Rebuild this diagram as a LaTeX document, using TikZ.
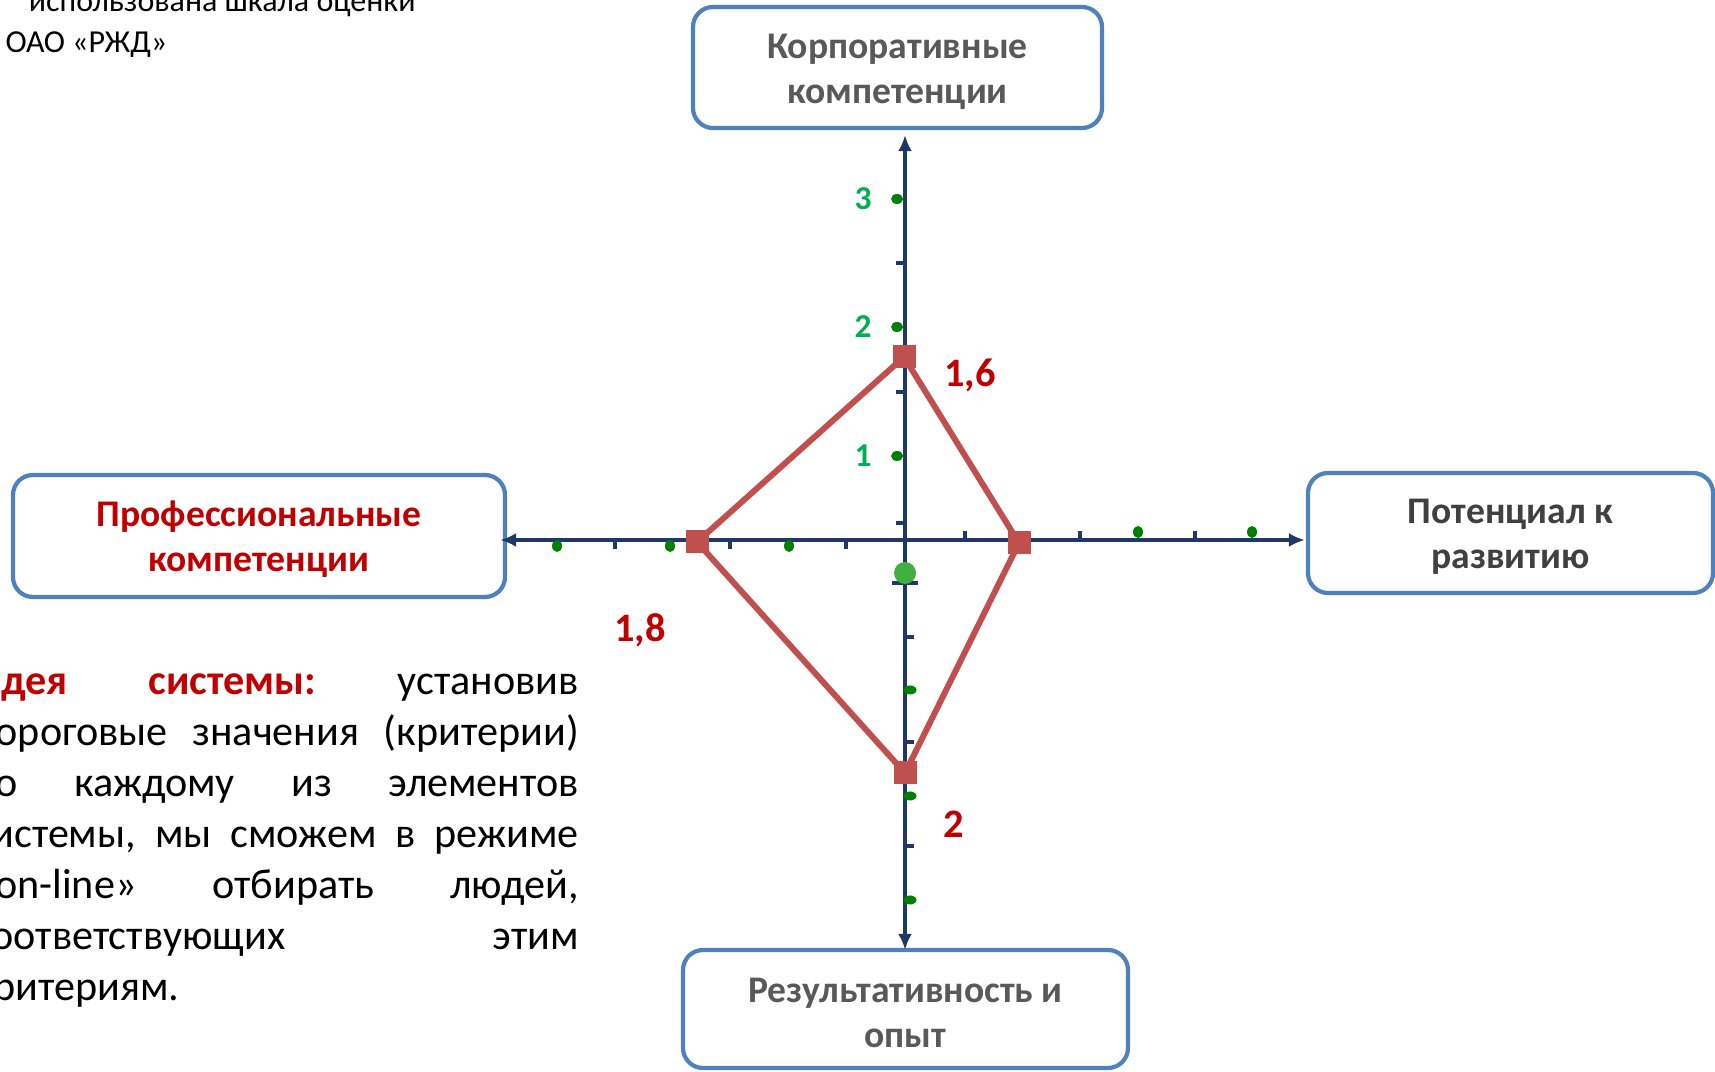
\documentclass[tikz,border=0pt]{standalone}
\usepackage{fontspec}
\setmainfont{Carlito}
\usetikzlibrary{shapes,positioning,arrows.meta}
\usetikzlibrary{calc}

\definecolor{boxblue}{RGB}{79,129,189}
\definecolor{axisblue}{RGB}{31,56,100}
\definecolor{polyred}{RGB}{192,80,77}
\definecolor{labred}{RGB}{192,0,0}
\definecolor{dotgreen}{RGB}{0,128,0}
\definecolor{bigdot}{RGB}{64,176,64}
\definecolor{numgreen}{RGB}{0,176,80}
\definecolor{boxgray}{RGB}{89,89,89}
\definecolor{textgray}{RGB}{64,64,64}

\begin{document}
\begin{tikzpicture}[
    compbox/.style={draw=boxblue, line width=1.2pt, rounded corners=0.2cm, fill=white, inner sep=0pt},
    boxtext/.style={align=center, inner sep=0pt, font=\fontsize{10.7}{12.8}\selectfont\bfseries},
    axis/.style={draw=axisblue, line width=1pt},
    tick/.style={draw=axisblue, line width=0.9pt},
    valbox/.style={fill=polyred, inner sep=0pt, minimum size=0.23cm},
    vallabel/.style={text=labred, font=\fontsize{11.5}{14}\selectfont\bfseries},
    scalelabel/.style={text=numgreen, font=\fontsize{9.5}{11}\selectfont\bfseries},
    tip/.style={-{Latex[length=0.16cm,width=0.14cm]}}
]

    \useasboundingbox (0,0) rectangle (17.15,10.71);

    \node[anchor=base west, inner sep=0pt, font=\fontsize{9.1}{12.8}\selectfont] (note1) at (0.05,10.59) {* использована шкала оценки};
    \node[anchor=base west, inner sep=0pt, font=\fontsize{9.1}{12.8}\selectfont] (note2) at (0.05,10.18) {ОАО «РЖД»};


    \node[compbox, minimum width=4.09cm, minimum height=1.21cm] (corp) at (8.975,10.035) {};
    \node[boxtext, text=boxgray] (corp-t) at ([yshift=-0.04cm]corp.center) {Корпоративные\\компетенции};

    \node[compbox, minimum width=4.92cm, minimum height=1.22cm] (prof) at (2.59,5.35) {};
    \node[boxtext, text=labred] (prof-t) at ([yshift=-0.03cm]prof.center) {Профессиональные\\компетенции};

    \node[compbox, minimum width=4.05cm, minimum height=1.20cm] (pot) at (15.105,5.38) {};
    \node[boxtext, text=textgray] (pot-t) at ([yshift=-0.04cm]pot.center) {Потенциал к\\развитию};

    \node[compbox, minimum width=4.45cm, minimum height=1.18cm] (res) at (9.055,0.62) {};
    \node[boxtext, text=boxgray] (res-t) at ([yshift=-0.035cm]res.center) {Результативность и\\опыт};


    \coordinate (o) at (9.05,5.31);

    \draw[axis, tip, shorten >=0.01cm] (o) -- (o -| pot.west);
    \draw[axis, tip, shorten >=-0.07cm] (o) -- (o -| prof.east);
    \draw[axis, tip, shorten >=0.05cm] (o) -- (o |- corp.south);
    \draw[axis, tip, shorten >=-0.02cm] (o) -- (o |- res.north);

    \draw[axis] (8.92,4.88) -- (9.18,4.88);

    \foreach \x in {6.15,7.30,8.46}
        \draw[tick] (\x,5.31) -- (\x,5.22);
    \foreach \x in {9.65,10.80,11.95}
        \draw[tick] (\x,5.31) -- (\x,5.40);
    \foreach \y in {8.08,6.79,5.48}
        \draw[tick] (9.05,\y) -- (8.96,\y);
    \foreach \y in {4.34,3.29,2.25}
        \draw[tick] (9.05,\y) -- (9.14,\y);

    \foreach \x in {5.57,6.70,7.89}
        \fill[dotgreen] (\x,5.25) ellipse (0.05 and 0.06);
    \foreach \x in {11.38,12.52}
        \fill[dotgreen] (\x,5.39) ellipse (0.05 and 0.06);
    \foreach \y in {8.72,7.44,6.15}
        \fill[dotgreen] (8.97,\y) ellipse (0.06 and 0.05);
    \foreach \y in {3.81,2.75,1.71}
        \fill[dotgreen] (9.10,\y) ellipse (0.065 and 0.045);

    \fill[bigdot] (9.05,4.98) circle (0.11);

    \node[scalelabel] (s3) at (8.63,8.72) {3};
    \node[scalelabel] (s2) at (8.63,7.44) {2};
    \node[scalelabel] (s1) at (8.63,6.15) {1};


    \node[valbox] (vk) at (9.04,7.14) {};
    \node[valbox] (vp) at (6.97,5.29) {};
    \node[valbox] (vr) at (10.19,5.28) {};
    \node[valbox] (vo) at (9.05,2.98) {};

    \draw[polyred, line width=1.7pt] (vk.center) -- (vr.center) -- (vo.center) -- (vp.center) -- cycle;

    \node[vallabel] (lk) at (9.70,6.96) {1,6};
    \node[vallabel] (lp) at (6.40,4.41) {1,8};
    \node[vallabel] (lo) at (9.54,2.47) {2};


    \node[anchor=base west, inner sep=0pt, text width=6.05cm, align=justify,
        font=\fontsize{12}{14.5}\selectfont] (idea) at (-0.27,3.765)
        {\hyphenpenalty=10000\relax\frenchspacing
        \textcolor{labred}{\bfseries Идея системы:} установив\linebreak
        пороговые значения (критерии)\linebreak
        по каждому из элементов\linebreak
        системы, мы сможем в режиме\linebreak
        «on-line» отбирать людей,\linebreak
        соответствующих этим\linebreak
        критериям.};

\end{tikzpicture}
\end{document}
